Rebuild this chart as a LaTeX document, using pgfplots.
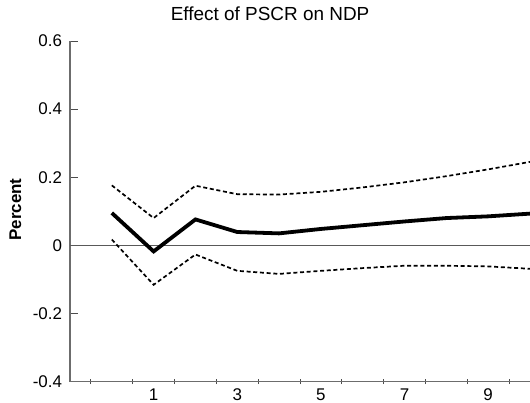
\documentclass[border=0pt]{standalone}
\usepackage{pgfplots}
\pgfplotsset{compat=1.18}
\usepackage{fontspec}
\setmainfont{Liberation Sans}

% impulse response: mean and dashed bands, periods 0..10
\pgfplotstableread{
t   mid     up      lo
0   0.095   0.176   0.017
1  -0.018   0.080  -0.116
2   0.076   0.175  -0.027
3   0.039   0.150  -0.075
4   0.035   0.149  -0.084
5   0.048   0.157  -0.075
6   0.059   0.170  -0.067
7   0.070   0.185  -0.060
8   0.080   0.203  -0.060
9   0.085   0.223  -0.062
10  0.093   0.245  -0.069
}\irf

\begin{document}
\begin{tikzpicture}
\useasboundingbox (0,0) rectangle (530bp,403bp);
\begin{axis}[
    at={(70bp,21.5bp)}, anchor=south west,
    scale only axis, width=460bp, height=340.5bp,
    xmin=-1, xmax=10, ymin=-0.4, ymax=0.6,
    axis x line=bottom, axis y line=left,
    axis line style={gray!85!black, line width=1.1bp, -},
    xtick={1,3,5,7,9},
    xticklabels={1,3,5,7,9},
    minor xtick={-0.5,0.5,...,9.5},
    ytick={-0.4,-0.2,0,0.2,0.4,0.6},
    yticklabels={-0.4,-0.2,0,0.2,0.4,0.6},
    x tick style={draw=none},
    minor x tick style={draw=gray!60!black, line width=0.9bp},
    minor tick length=5bp,
    y tick style={draw=gray!60!black, line width=0.9bp, xshift=4bp},
    major tick length=8bp,
    tick label style={font=\fontsize{17}{20}\selectfont},
    yticklabel style={xshift=-0.5bp},
    ylabel={Percent},
    ylabel style={at={(axis description cs:-0.119,0.505)}, anchor=center,
        rotate=0, font=\fontsize{17}{20}\selectfont\bfseries},
    title={Effect of PSCR on NDP},
    title style={at={(axis description cs:0.435,1.042)}, anchor=base,
        font=\fontsize{19}{22}\selectfont},
    clip=true,
]
\addplot[gray!70!black, line width=1.1bp] coordinates {(-1,0) (10,0)};
\addplot[black, line width=1.7bp, dash pattern=on 4bp off 2.7bp] table[x=t, y=up] {\irf};
\addplot[black, line width=1.7bp, dash pattern=on 4bp off 2.7bp] table[x=t, y=lo] {\irf};
\addplot[black, line width=3.8bp, line join=miter] table[x=t, y=mid] {\irf};
\end{axis}
\end{tikzpicture}
\end{document}
